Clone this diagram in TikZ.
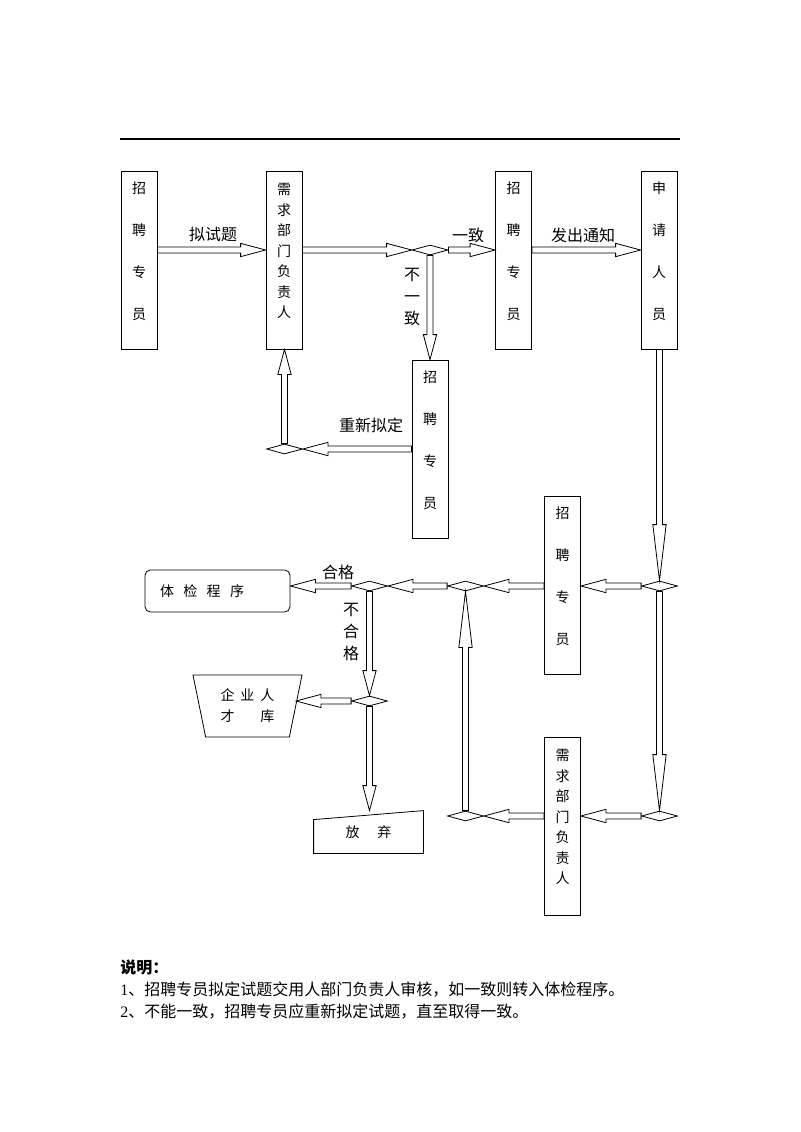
\documentclass[tikz,border=0pt]{standalone}
\usepackage{fontspec}
\setmainfont{Liberation Serif}
\newfontfamily\cjk{Noto Sans CJK SC}
\usetikzlibrary{positioning, calc, shapes.geometric}

% hollow block arrow from start to target, #1 = head length
\tikzset{
	blockarrow/.style={to path={
		($(\tikztotarget)!#1!(\tikztostart)$) coordinate (ba-b)
		($(\tikztostart)!2.25pt!90:(\tikztotarget)$)
		-- ($(ba-b)!2.25pt!90:(\tikztotarget)$)
		-- ($(ba-b)!5pt!90:(\tikztotarget)$)
		-- (\tikztotarget)
		-- ($(ba-b)!5pt!-90:(\tikztotarget)$)
		-- ($(ba-b)!2.25pt!-90:(\tikztotarget)$)
		-- ($(\tikztostart)!2.25pt!-90:(\tikztotarget)$)
		-- cycle}},
	blockarrow/.default=18.75pt
}

\begin{document}
\begin{tikzpicture}[x=0.75pt, y=-0.75pt, line width=0.6pt]

	\tikzstyle{tallbox}=[draw, minimum width=27pt, minimum height=133.5pt, inner sep=0pt]
	\tikzstyle{boxtext}=[font=\cjk\fontsize{10.5}{12.6}\selectfont, align=center, inner sep=0pt]
	\tikzstyle{junction}=[draw, fill=white, diamond, minimum width=27pt, minimum height=7.5pt, inner sep=0pt]
	\tikzstyle{flowlabel}=[font=\cjk\fontsize{12}{14.4}\selectfont, align=center, inner sep=0pt]
	\tikzstyle{note}=[font=\cjk\fontsize{12}{14.4}\selectfont, anchor=west, inner sep=0pt]
	\tikzstyle{flow}=[blockarrow]

	\useasboundingbox (0,0) rectangle (800,1132);

	\draw[line width=1pt] (120,139) -- (680,139);

	% boxes
	\node[tallbox] (zp1) at (139,260) {};
	\node[boxtext] (zp1txt) at ([yshift=6.75pt]zp1.center) {招\\[19pt]聘\\[19pt]专\\[19pt]员};
	\node[tallbox] (dept1) at (284,260) {};
	\node[boxtext] (dept1txt) at ([yshift=6.75pt]dept1.center) {需\\[2.8pt]求\\[2.8pt]部\\[2.8pt]门\\[2.8pt]负\\[2.8pt]责\\[2.8pt]人};
	\node[tallbox] (zp2) at (513.5,260) {};
	\node[boxtext] (zp2txt) at ([yshift=6.75pt]zp2.center) {招\\[19pt]聘\\[19pt]专\\[19pt]员};
	\node[tallbox] (applicant) at (659,260) {};
	\node[boxtext] (applicanttxt) at ([yshift=6.75pt]applicant.center) {申\\[19pt]请\\[19pt]人\\[19pt]员};
	\node[tallbox] (zp3) at (430,449) {};
	\node[boxtext] (zp3txt) at ([yshift=6.75pt]zp3.center) {招\\[19pt]聘\\[19pt]专\\[19pt]员};
	\node[tallbox] (zp4) at (562.5,585) {};
	\node[boxtext] (zp4txt) at ([yshift=6.75pt]zp4.center) {招\\[19pt]聘\\[19pt]专\\[19pt]员};
	\node[tallbox] (dept2) at (562.5,826) {};
	\node[boxtext] (dept2txt) at ([yshift=6.75pt]dept2.center) {需\\[2.8pt]求\\[2.8pt]部\\[2.8pt]门\\[2.8pt]负\\[2.8pt]责\\[2.8pt]人};

	\node[draw, rounded corners=4pt, text width=86.25pt, inner xsep=11.25pt, minimum height=31.5pt, align=left, font=\cjk\fontsize{10.5}{12.6}\selectfont] (exam) at (217.5,591) {体\hspace{7pt}检\hspace{7pt}程\hspace{7pt}序};
	\node[draw, trapezium, trapezium angle=71, shape border rotate=180, trapezium stretches body=true, minimum width=81.75pt, minimum height=46.5pt, inner sep=1pt, align=center, font=\cjk\fontsize{10.5}{12.6}\selectfont] (talent) at (247.5,706) {企\hspace{4.5pt}业\hspace{4.5pt}人\\[3.15pt]才\hspace{4.5pt}\phantom{业}\hspace{4.5pt}库};
	\node[minimum width=81.75pt, minimum height=31.5pt, inner sep=0pt, font=\cjk\fontsize{10.5}{12.6}\selectfont] (giveup) at (368.5,832) {放\hspace{13.5pt}弃};
	\draw (giveup.south west) -- (giveup.south east) -- (giveup.north east) -- ([yshift=-6.75pt]giveup.north west) -- cycle;

	% junctions
	\node[junction] (dec1) at (430,250) {};
	\node[junction] (dec2) at (284.5,449) {};
	\node[junction] (dec3) at (659.5,586) {};
	\node[junction] (dec4) at (465.5,586) {};
	\node[junction] (dec5) at (369.5,586) {};
	\node[junction] (dec6) at (369.5,701) {};
	\node[junction] (dec7) at (659.5,816) {};
	\node[junction] (dec8) at (465.5,816) {};

	% arrows
	\draw (zp1.east |- dec1) to[flow] (dept1.west |- dec1);
	\draw (dept1.east |- dec1) to[flow] (dec1.west);
	\draw (dec1.east) to[flow] (zp2.west |- dec1);
	\draw (zp2.east |- dec1) to[flow] (applicant.west |- dec1);
	\draw (dec1.south) to[flow] (zp3.north);
	\draw (zp3.west |- dec2) to[flow] (dec2.east);
	\draw (dec2.north) to[flow] (dept1.south -| dec2);
	\draw (applicant.south -| dec3) to[blockarrow=42pt] (dec3.north);
	\draw (dec3.west) to[flow] (zp4.east |- dec3);
	\draw (zp4.west |- dec4) to[flow] (dec4.east);
	\draw (dec4.west) to[flow] (dec5.east);
	\draw (dec5.west) to[flow] (exam.east |- dec5);
	\draw (dec5.south) to[flow] (dec6.north);
	\draw (dec6.west) to[flow] (dec6.west -| talent.east);
	\draw (dec6.south) to[flow] (giveup.north -| dec6);
	\draw (dec3.south) to[blockarrow=42pt] (dec7.north);
	\draw (dec7.west) to[flow] (dept2.east |- dec7);
	\draw (dept2.west |- dec8) to[flow] (dec8.east);
	\draw (dec8.north) to[blockarrow=42pt] (dec4.south);

	% labels
	\node[flowlabel] (lbl-draft) at (213,234) {拟试题};
	\node[flowlabel] (lbl-agree) at (468,235) {一致};
	\node[flowlabel] (lbl-notify) at (583,235) {发出通知};
	\node[flowlabel] (lbl-disagree) at (412,297) {不\\[2.1pt]一\\[2.1pt]致};
	\node[flowlabel] (lbl-redo) at (371,425) {重新拟定};
	\node[flowlabel] (lbl-pass) at (338,572) {合格};
	\node[flowlabel] (lbl-fail) at (351,632) {不\\[2.1pt]合\\[2.1pt]格};

	% notes
	\node[note, font=\cjk\bfseries\fontsize{12}{14.4}\selectfont] (note0) at (120,967) {说明：};
	\node[note] (note1) at (120,990) {{\rmfamily 1}、招聘专员拟定试题交用人部门负责人审核，如一致则转入体检程序。};
	\node[note] (note2) at (120,1012) {{\rmfamily 2}、不能一致，招聘专员应重新拟定试题，直至取得一致。};

\end{tikzpicture}
\end{document}
